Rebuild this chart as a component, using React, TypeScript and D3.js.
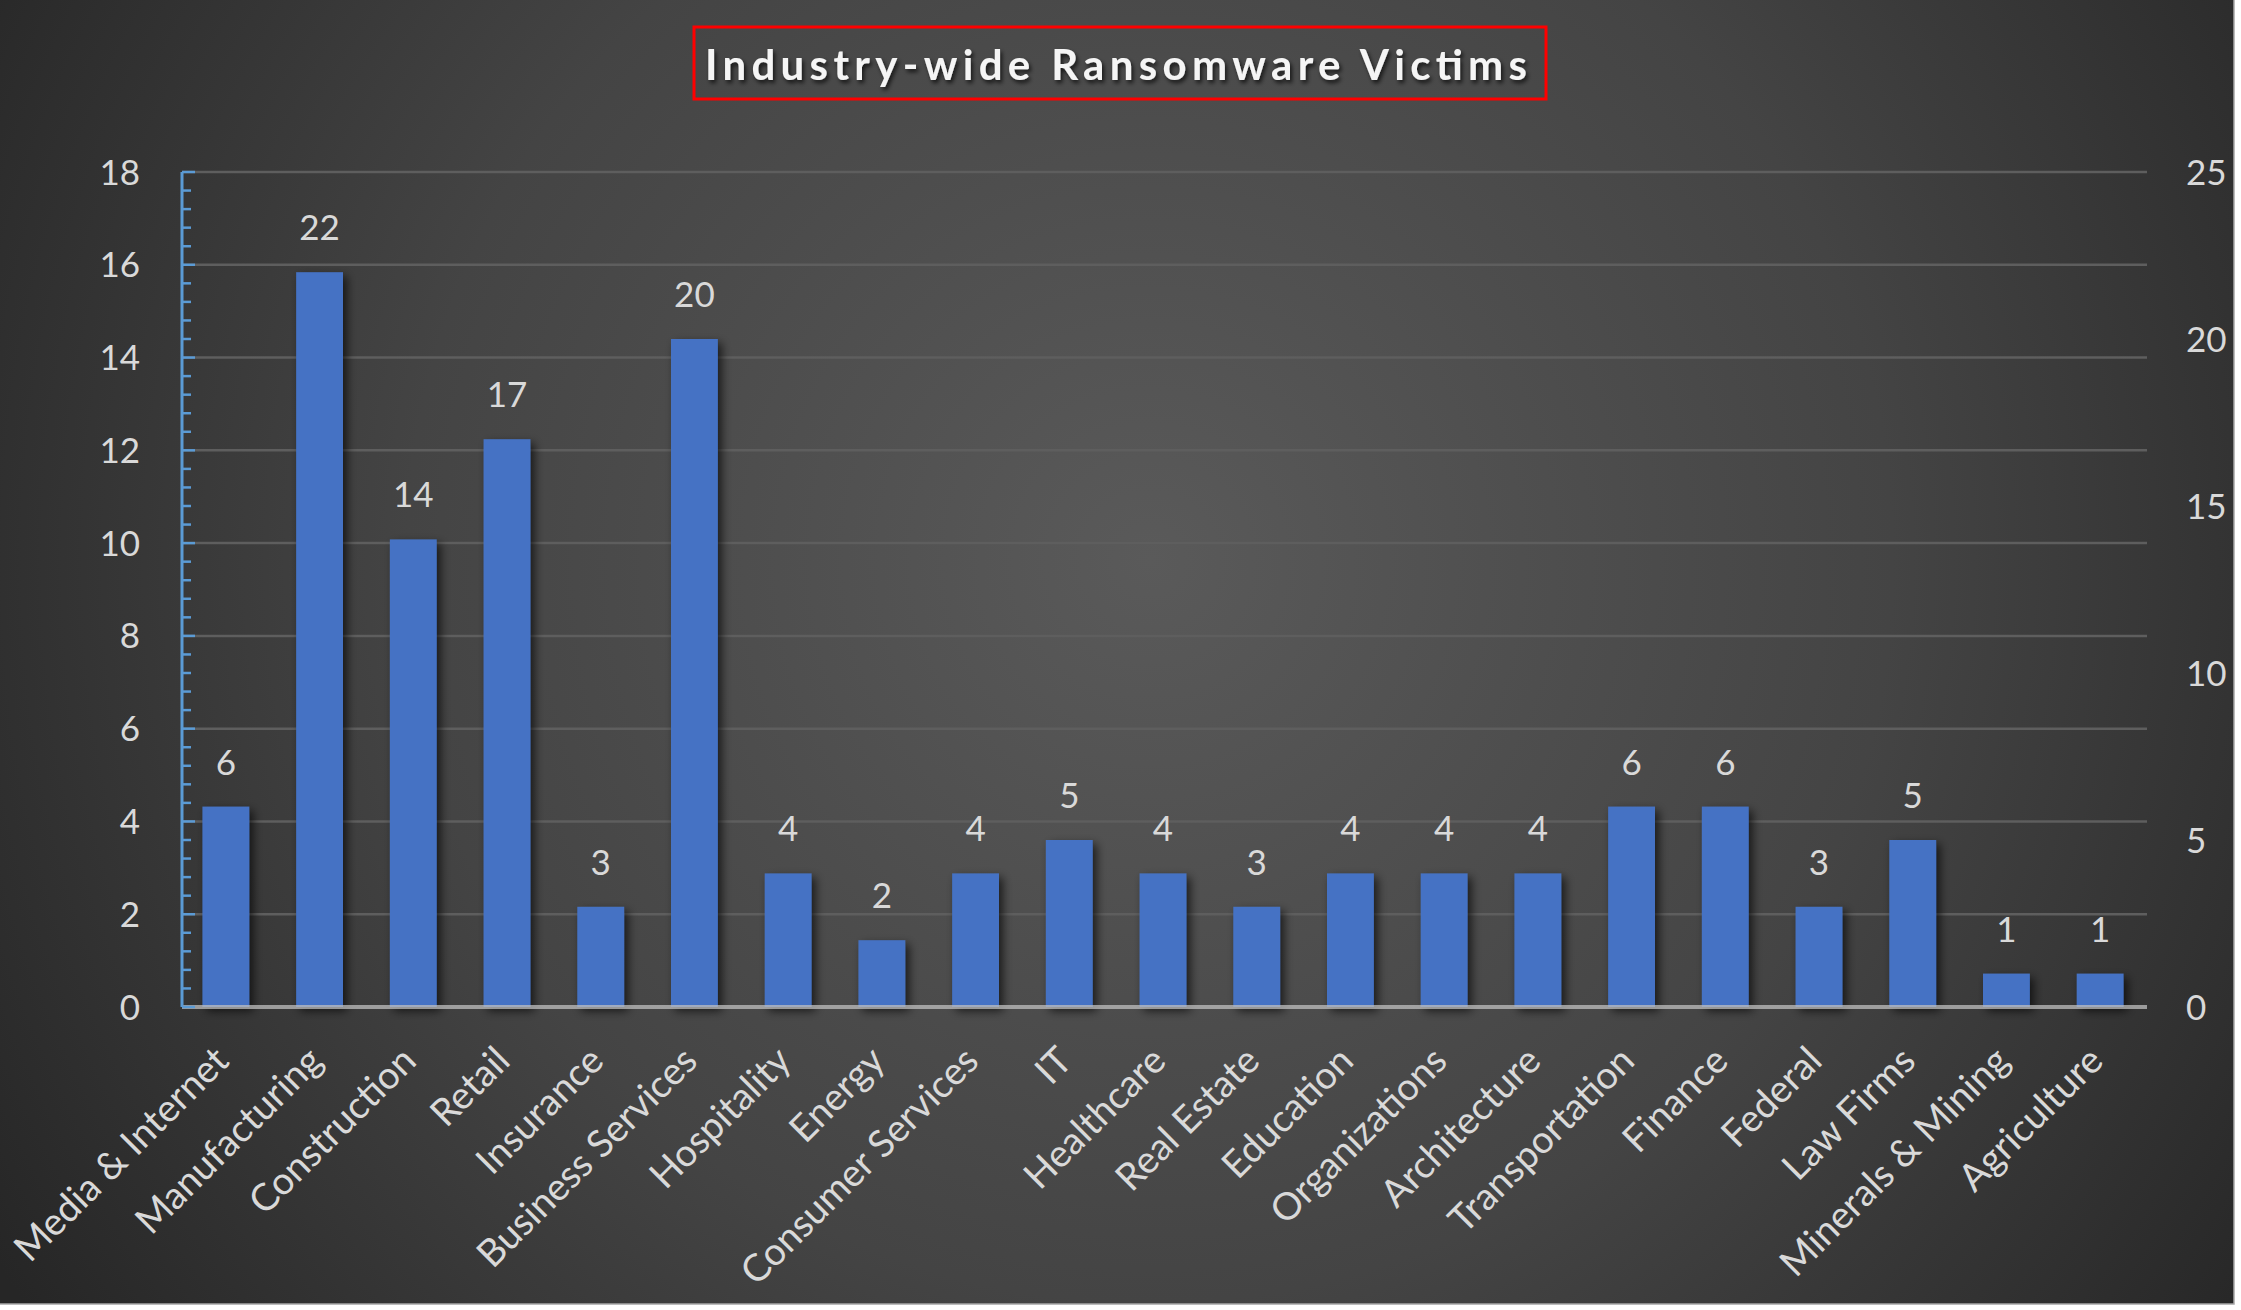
import * as d3 from "d3";

// chart values
const categories = [
  "Media & Internet",
  "Manufacturing",
  "Construction",
  "Retail",
  "Insurance",
  "Business Services",
  "Hospitality",
  "Energy",
  "Consumer Services",
  "IT",
  "Healthcare",
  "Real Estate",
  "Education",
  "Organizations",
  "Architecture",
  "Transportation",
  "Finance",
  "Federal",
  "Law Firms",
  "Minerals & Mining",
  "Agriculture",
];
const victims = [6, 22, 14, 17, 3, 20, 4, 2, 4, 5, 4, 3, 4, 4, 4, 6, 6, 3, 5, 1, 1];
const leftTicks = [0, 2, 4, 6, 8, 10, 12, 14, 16, 18];
const rightTicks = [0, 5, 10, 15, 20, 25];
const title = "Industry-wide Ransomware Victims";

const W = 2241;
const H = 1310;
const plot = { left: 182, right: 2147, top: 172, bottom: 1007 };
const FONT = "Lato, 'Open Sans', sans-serif";
const TEXT = "#d9d9d9";

export default function App() {
  const x = d3
    .scaleBand()
    .domain(categories)
    .range([plot.left - 3, plot.right])
    .paddingInner(0.5)
    .paddingOuter(0.25);
  const yLeft = d3.scaleLinear().domain([0, 18]).range([plot.bottom, plot.top]);
  const yRight = d3.scaleLinear().domain([0, 25]).range([plot.bottom, plot.top]);

  // minor ticks every 0.4 on the left axis
  const minorTicks = d3.range(0, 18.001, 0.4).filter((v) => Math.abs(v / 2 - Math.round(v / 2)) > 0.01);

  return (
    <svg
      width={W}
      height={H}
      style={{ position: "absolute", left: 0, top: 0, display: "block" }}
      fontFamily={FONT}
    >
      <defs>
        <radialGradient id="bg" gradientUnits="userSpaceOnUse" cx={1150} cy={560} r={1350}>
          <stop offset="0" stopColor="#5a5a5a" />
          <stop offset="0.55" stopColor="#444444" />
          <stop offset="1" stopColor="#262626" />
        </radialGradient>
        <filter id="barShadow" x="-30%" y="-10%" width="170%" height="130%">
          <feDropShadow dx="4" dy="4" stdDeviation="5" floodColor="#000" floodOpacity="0.65" />
        </filter>
        <filter id="titleShadow" x="-5%" y="-30%" width="110%" height="170%">
          <feDropShadow dx="2" dy="3" stdDeviation="2" floodColor="#000" floodOpacity="0.7" />
        </filter>
      </defs>

      <rect width={W} height={H} fill="#ffffff" />
      <rect width={2234} height={1304} fill="url(#bg)" />
      <path d="M2234,0V1304H0" fill="none" stroke="#a6a6a6" strokeWidth={1.5} />

      {/* title */}
      <rect x={694} y={27} width={852} height={72} fill="none" stroke="#ff0000" strokeWidth={3} />
      <text
        x={1116}
        y={80}
        textAnchor="middle"
        fontSize={42}
        fontWeight={700}
        fill="#f5f5f5"
        textLength={822}
        lengthAdjust="spacing"
        filter="url(#titleShadow)"
      >
        {title}
      </text>

      {/* gridlines */}
      {leftTicks.slice(1).map((t) => (
        <line
          key={`g${t}`}
          x1={plot.left}
          x2={plot.right}
          y1={yLeft(t)}
          y2={yLeft(t)}
          stroke="#5e5e5e"
          strokeWidth={2.5}
        />
      ))}

      {/* bars */}
      <g filter="url(#barShadow)">
        {categories.map((c, i) => (
          <rect
            key={c}
            x={x(c)}
            y={yRight(victims[i])}
            width={x.bandwidth()}
            height={plot.bottom - yRight(victims[i])}
            fill="#4472c4"
          />
        ))}
      </g>

      {/* category axis line */}
      <line
        x1={plot.left}
        x2={plot.right}
        y1={plot.bottom}
        y2={plot.bottom}
        stroke="#bfbfbf"
        strokeOpacity={0.75}
        strokeWidth={4}
      />

      {/* data labels */}
      {categories.map((c, i) => (
        <text
          key={`l${c}`}
          x={x(c) + x.bandwidth() / 2}
          y={yRight(victims[i]) - 32}
          textAnchor="middle"
          fontSize={35}
          fill={TEXT}
        >
          {victims[i]}
        </text>
      ))}

      {/* left axis */}
      <line x1={plot.left} x2={plot.left} y1={plot.top} y2={plot.bottom} stroke="#5b9bd5" strokeWidth={3} />
      {leftTicks.map((t) => (
        <line
          key={`mt${t}`}
          x1={plot.left}
          x2={plot.left + 13}
          y1={yLeft(t)}
          y2={yLeft(t)}
          stroke="#5b9bd5"
          strokeWidth={2.5}
        />
      ))}
      {minorTicks.map((t) => (
        <line
          key={`nt${t}`}
          x1={plot.left}
          x2={plot.left + 9}
          y1={yLeft(t)}
          y2={yLeft(t)}
          stroke="#5b9bd5"
          strokeWidth={2.5}
        />
      ))}
      {leftTicks.map((t) => (
        <text
          key={`lt${t}`}
          x={140}
          y={yLeft(t)}
          dy="0.36em"
          textAnchor="end"
          fontSize={35}
          fill={TEXT}
        >
          {t}
        </text>
      ))}

      {/* right axis labels */}
      {rightTicks.map((t) => (
        <text key={`rt${t}`} x={2186} y={yRight(t)} dy="0.36em" fontSize={35} fill={TEXT}>
          {t}
        </text>
      ))}

      {/* category labels */}
      {categories.map((c) => {
        const cx = x(c) + x.bandwidth() / 2;
        return (
          <text
            key={`c${c}`}
            transform={`translate(${cx + 5},${plot.bottom + 56}) rotate(-45)`}
            textAnchor="end"
            fontSize={38}
            fill={TEXT}
          >
            {c}
          </text>
        );
      })}
    </svg>
  );
}
